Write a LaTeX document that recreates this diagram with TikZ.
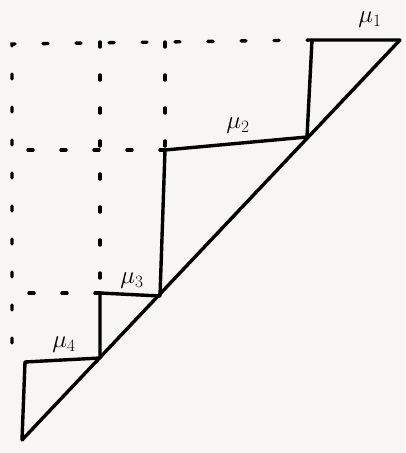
\documentclass[tikz,border=0pt]{standalone}
\begin{document}
\begin{tikzpicture}[x=1pt,y=-1pt,
  ink/.style={line width=3.4pt,line cap=round,line join=round,black},
  guide/.style={line width=3.4pt,line cap=round,black,dash pattern=on 5pt off 28pt},
  lbl/.style={font=\fontsize{26}{28}\selectfont,inner sep=0pt}]
\fill[fill={rgb,255:red,248;green,246;blue,242}] (0,0) rectangle (405,453);
\useasboundingbox (0,0) rectangle (405,453);
% corners
\coordinate (bl) at (22,440);
\coordinate (tr) at (400,40);
\coordinate (a1) at (312,40);
\coordinate (b1) at (307,137);
\coordinate (a2) at (165,150);
\coordinate (b2) at (160,296);
\coordinate (a3) at (100,293);
\coordinate (b3) at (100,358);
\coordinate (a4) at (25,362);
% guide corners
\coordinate (g0) at (12,44);
\coordinate (g1) at (12,150);
\coordinate (g2) at (12,293);
\coordinate (g3) at (12,352);
\coordinate (t3) at (100,42);
\coordinate (t2) at (165,42);
% dashed guides
\draw[guide] (a1) -- (g0) -- (g3);
\draw[guide] (a2) -- (g1);
\draw[guide] (a3) -- (g2);
\draw[guide] (t3) -- (a3);
\draw[guide] (t2) -- (a2);
% steps
\draw[ink] (bl) -- (tr);
\draw[ink] (tr) -- (a1) -- (b1);
\draw[ink] (b1) -- (a2) -- (b2);
\draw[ink] (b2) -- (a3) -- (b3);
\draw[ink] (b3) -- (a4) -- (bl);
% labels
\node[lbl] (m1) at (370,20) {$\mu_1$};
\node[lbl] (m2) at (238,126) {$\mu_2$};
\node[lbl] (m3) at (132,281) {$\mu_3$};
\node[lbl] (m4) at (64,345) {$\mu_4$};
\end{tikzpicture}
\end{document}
